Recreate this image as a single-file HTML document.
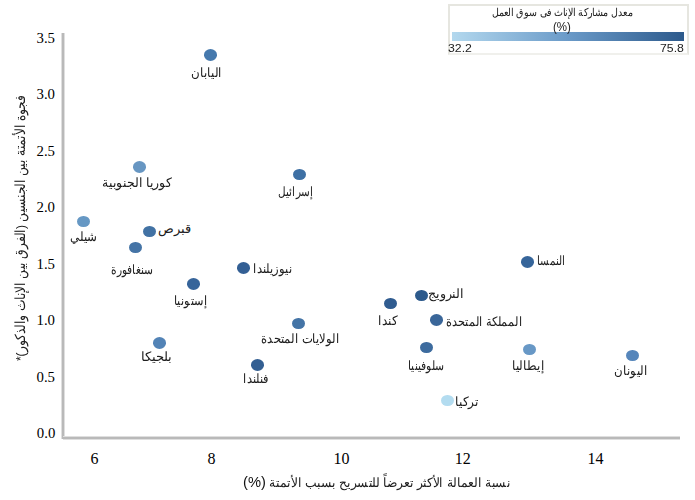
<!DOCTYPE html>
<html><head><meta charset="utf-8"><style>
html,body{margin:0;padding:0;background:#fff;width:695px;height:500px;overflow:hidden;position:relative}
.mk{position:absolute;width:13px;height:11.3px;border-radius:50%;filter:blur(0.45px)}
</style></head><body>
<div style="position:absolute;left:61.4px;top:33px;width:4px;height:406px;background:linear-gradient(to right,#f2f2f2,#a6a6a6 50%,#f2f2f2)"></div>
<div style="position:absolute;left:63.4px;top:435.6px;width:616.6px;height:4px;background:linear-gradient(to bottom,#f2f2f2,#a6a6a6 50%,#f2f2f2)"></div>
<div style="position:absolute;left:448px;top:4.3px;width:236.5px;height:46.5px;border:2px solid #e6e6e0;border-bottom-color:#f0f0ec;background:#fff"></div>
<div style="position:absolute;left:452px;top:32px;width:232px;height:9px;background:linear-gradient(to right,#b3d8ee,#6a9ac8 50%,#2d5a8c)"></div>
<span style="position:absolute;left:492.34px;top:5.50px;white-space:nowrap;font-family:'Liberation Sans',sans-serif;direction:rtl;color:#202020;font-size:11px;transform:scaleX(0.862);transform-origin:0 0;">معدل مشاركة الإناث فى سوق العمل</span>
<span style="position:absolute;left:552.78px;top:19.60px;white-space:nowrap;font-family:'Liberation Sans',sans-serif;font-size:12.5px;color:#202020;transform:scaleX(0.922);transform-origin:0 0;">(%)</span>
<span style="position:absolute;left:448.28px;top:41.90px;white-space:nowrap;font-family:'Liberation Sans',sans-serif;font-size:11px;color:#222;transform:scaleX(1.115);transform-origin:0 0;">32.2</span>
<span style="position:absolute;left:659.59px;top:41.90px;white-space:nowrap;font-family:'Liberation Sans',sans-serif;font-size:11px;color:#222;transform:scaleX(1.115);transform-origin:0 0;">75.8</span>
<div class="mk" style="left:204.20px;top:49.35px;background:#4679ad"></div><div class="mk" style="left:133.20px;top:161.25px;background:#6796c2"></div><div class="mk" style="left:293.40px;top:168.65px;background:#3e70a4"></div><div class="mk" style="left:77.20px;top:215.85px;background:#6698c4"></div><div class="mk" style="left:142.70px;top:225.55px;background:#4272a4"></div><div class="mk" style="left:129.30px;top:241.75px;background:#4574a6"></div><div class="mk" style="left:237.10px;top:262.35px;background:#335f94"></div><div class="mk" style="left:186.50px;top:278.25px;background:#36649a"></div><div class="mk" style="left:292.20px;top:317.75px;background:#4474a6"></div><div class="mk" style="left:153.00px;top:337.35px;background:#5283b6"></div><div class="mk" style="left:250.50px;top:359.25px;background:#335f92"></div><div class="mk" style="left:384.00px;top:297.95px;background:#305c90"></div><div class="mk" style="left:415.20px;top:289.55px;background:#2d5a8c"></div><div class="mk" style="left:430.30px;top:314.25px;background:#3a6699"></div><div class="mk" style="left:419.80px;top:341.75px;background:#3d6b9e"></div><div class="mk" style="left:523.20px;top:344.15px;background:#6898c6"></div><div class="mk" style="left:440.90px;top:395.05px;background:#b3dcf0"></div><div class="mk" style="left:520.50px;top:256.35px;background:#36659a"></div><div class="mk" style="left:625.50px;top:349.75px;background:#5686bb"></div>
<span style="position:absolute;left:190.89px;top:65.10px;white-space:nowrap;font-family:'Liberation Sans',sans-serif;direction:rtl;color:#202020;font-size:12.5px;transform:scaleX(0.912);transform-origin:0 0;">اليابان</span><span style="position:absolute;left:102.04px;top:175.10px;white-space:nowrap;font-family:'Liberation Sans',sans-serif;direction:rtl;color:#202020;font-size:12.5px;transform:scaleX(0.961);transform-origin:0 0;">كوريا الجنوبية</span><span style="position:absolute;left:278.40px;top:183.90px;white-space:nowrap;font-family:'Liberation Sans',sans-serif;direction:rtl;color:#202020;font-size:12.5px;transform:scaleX(0.800);transform-origin:0 0;">إسرائيل</span><span style="position:absolute;left:70.09px;top:229.40px;white-space:nowrap;font-family:'Liberation Sans',sans-serif;direction:rtl;color:#202020;font-size:12.5px;transform:scaleX(0.907);transform-origin:0 0;">شيلي</span><span style="position:absolute;left:157.60px;top:221.30px;white-space:nowrap;font-family:'Liberation Sans',sans-serif;direction:rtl;color:#202020;font-size:12.5px;">قبرص</span><span style="position:absolute;left:110.98px;top:261.50px;white-space:nowrap;font-family:'Liberation Sans',sans-serif;direction:rtl;color:#202020;font-size:12.5px;transform:scaleX(0.820);transform-origin:0 0;">سنغافورة</span><span style="position:absolute;left:253.41px;top:261.30px;white-space:nowrap;font-family:'Liberation Sans',sans-serif;direction:rtl;color:#202020;font-size:12.5px;transform:scaleX(0.890);transform-origin:0 0;">نيوزيلندا</span><span style="position:absolute;left:174.23px;top:293.30px;white-space:nowrap;font-family:'Liberation Sans',sans-serif;direction:rtl;color:#202020;font-size:12.5px;transform:scaleX(0.869);transform-origin:0 0;">إستونيا</span><span style="position:absolute;left:261.11px;top:331.00px;white-space:nowrap;font-family:'Liberation Sans',sans-serif;direction:rtl;color:#202020;font-size:12.5px;transform:scaleX(0.893);transform-origin:0 0;">الولايات المتحدة</span><span style="position:absolute;left:140.99px;top:349.30px;white-space:nowrap;font-family:'Liberation Sans',sans-serif;direction:rtl;color:#202020;font-size:12.5px;transform:scaleX(1.014);transform-origin:0 0;">بلجيكا</span><span style="position:absolute;left:243.42px;top:370.90px;white-space:nowrap;font-family:'Liberation Sans',sans-serif;direction:rtl;color:#202020;font-size:12.5px;transform:scaleX(0.878);transform-origin:0 0;">فنلندا</span><span style="position:absolute;left:378.47px;top:312.80px;white-space:nowrap;font-family:'Liberation Sans',sans-serif;direction:rtl;color:#202020;font-size:12.5px;transform:scaleX(0.930);transform-origin:0 0;">كندا</span><span style="position:absolute;left:427.93px;top:286.40px;white-space:nowrap;font-family:'Liberation Sans',sans-serif;direction:rtl;color:#202020;font-size:12.5px;transform:scaleX(0.974);transform-origin:0 0;">النرويج</span><span style="position:absolute;left:445.93px;top:314.30px;white-space:nowrap;font-family:'Liberation Sans',sans-serif;direction:rtl;color:#202020;font-size:12.5px;transform:scaleX(0.874);transform-origin:0 0;">المملكة المتحدة</span><span style="position:absolute;left:407.57px;top:358.40px;white-space:nowrap;font-family:'Liberation Sans',sans-serif;direction:rtl;color:#202020;font-size:12.5px;transform:scaleX(0.829);transform-origin:0 0;">سلوفينيا</span><span style="position:absolute;left:511.78px;top:358.20px;white-space:nowrap;font-family:'Liberation Sans',sans-serif;direction:rtl;color:#202020;font-size:12.5px;transform:scaleX(0.924);transform-origin:0 0;">إيطاليا</span><span style="position:absolute;left:455.46px;top:394.00px;white-space:nowrap;font-family:'Liberation Sans',sans-serif;direction:rtl;color:#202020;font-size:12.5px;transform:scaleX(0.939);transform-origin:0 0;">تركيا</span><span style="position:absolute;left:536.71px;top:252.90px;white-space:nowrap;font-family:'Liberation Sans',sans-serif;direction:rtl;color:#202020;font-size:12.5px;transform:scaleX(0.794);transform-origin:0 0;">النمسا</span><span style="position:absolute;left:613.69px;top:363.20px;white-space:nowrap;font-family:'Liberation Sans',sans-serif;direction:rtl;color:#202020;font-size:12.5px;transform:scaleX(0.909);transform-origin:0 0;">اليونان</span>
<span style="position:absolute;left:36.50px;top:29.90px;white-space:nowrap;font-family:'Liberation Serif',serif;font-size:14.8px;color:#000">3.5</span><span style="position:absolute;left:36.50px;top:86.34px;white-space:nowrap;font-family:'Liberation Serif',serif;font-size:14.8px;color:#000">3.0</span><span style="position:absolute;left:36.50px;top:142.78px;white-space:nowrap;font-family:'Liberation Serif',serif;font-size:14.8px;color:#000">2.5</span><span style="position:absolute;left:36.50px;top:199.22px;white-space:nowrap;font-family:'Liberation Serif',serif;font-size:14.8px;color:#000">2.0</span><span style="position:absolute;left:36.50px;top:255.66px;white-space:nowrap;font-family:'Liberation Serif',serif;font-size:14.8px;color:#000">1.5</span><span style="position:absolute;left:36.50px;top:312.10px;white-space:nowrap;font-family:'Liberation Serif',serif;font-size:14.8px;color:#000">1.0</span><span style="position:absolute;left:36.50px;top:368.54px;white-space:nowrap;font-family:'Liberation Serif',serif;font-size:14.8px;color:#000">0.5</span><span style="position:absolute;left:36.80px;top:425.00px;white-space:nowrap;font-family:'Liberation Serif',serif;font-size:14.8px;color:#000">0.0</span><span style="position:absolute;left:90.60px;top:450.00px;white-space:nowrap;font-family:'Liberation Serif',serif;font-size:16px;color:#000">6</span><span style="position:absolute;left:207.50px;top:450.00px;white-space:nowrap;font-family:'Liberation Serif',serif;font-size:16px;color:#000">8</span><span style="position:absolute;left:333.40px;top:450.00px;white-space:nowrap;font-family:'Liberation Serif',serif;font-size:16px;color:#000">10</span><span style="position:absolute;left:454.80px;top:450.00px;white-space:nowrap;font-family:'Liberation Serif',serif;font-size:16px;color:#000">12</span><span style="position:absolute;left:587.50px;top:450.00px;white-space:nowrap;font-family:'Liberation Serif',serif;font-size:16px;color:#000">14</span>
<span style="position:absolute;left:243.35px;top:472.50px;white-space:nowrap;font-family:'Liberation Sans',sans-serif;direction:rtl;color:#202020;font-size:12.5px;transform:scaleX(0.947);transform-origin:0 0;">نسبة العمالة الأكثر تعرضاً للتسريح بسبب الأتمتة <span style="font-size:15.5px;color:#111">(%)</span></span>
<div style="position:absolute;left:10.80px;top:360.88px;transform:rotate(-90deg);transform-origin:0 0;white-space:nowrap"><span style="white-space:nowrap;font-family:'Liberation Sans',sans-serif;direction:rtl;color:#202020;font-size:13.5px;display:inline-block;transform:scaleX(0.880);transform-origin:0 0">فجوة الأتمتة بين الجنسين (الفرق بين الإناث والذكور)*</span></div>
</body></html>
